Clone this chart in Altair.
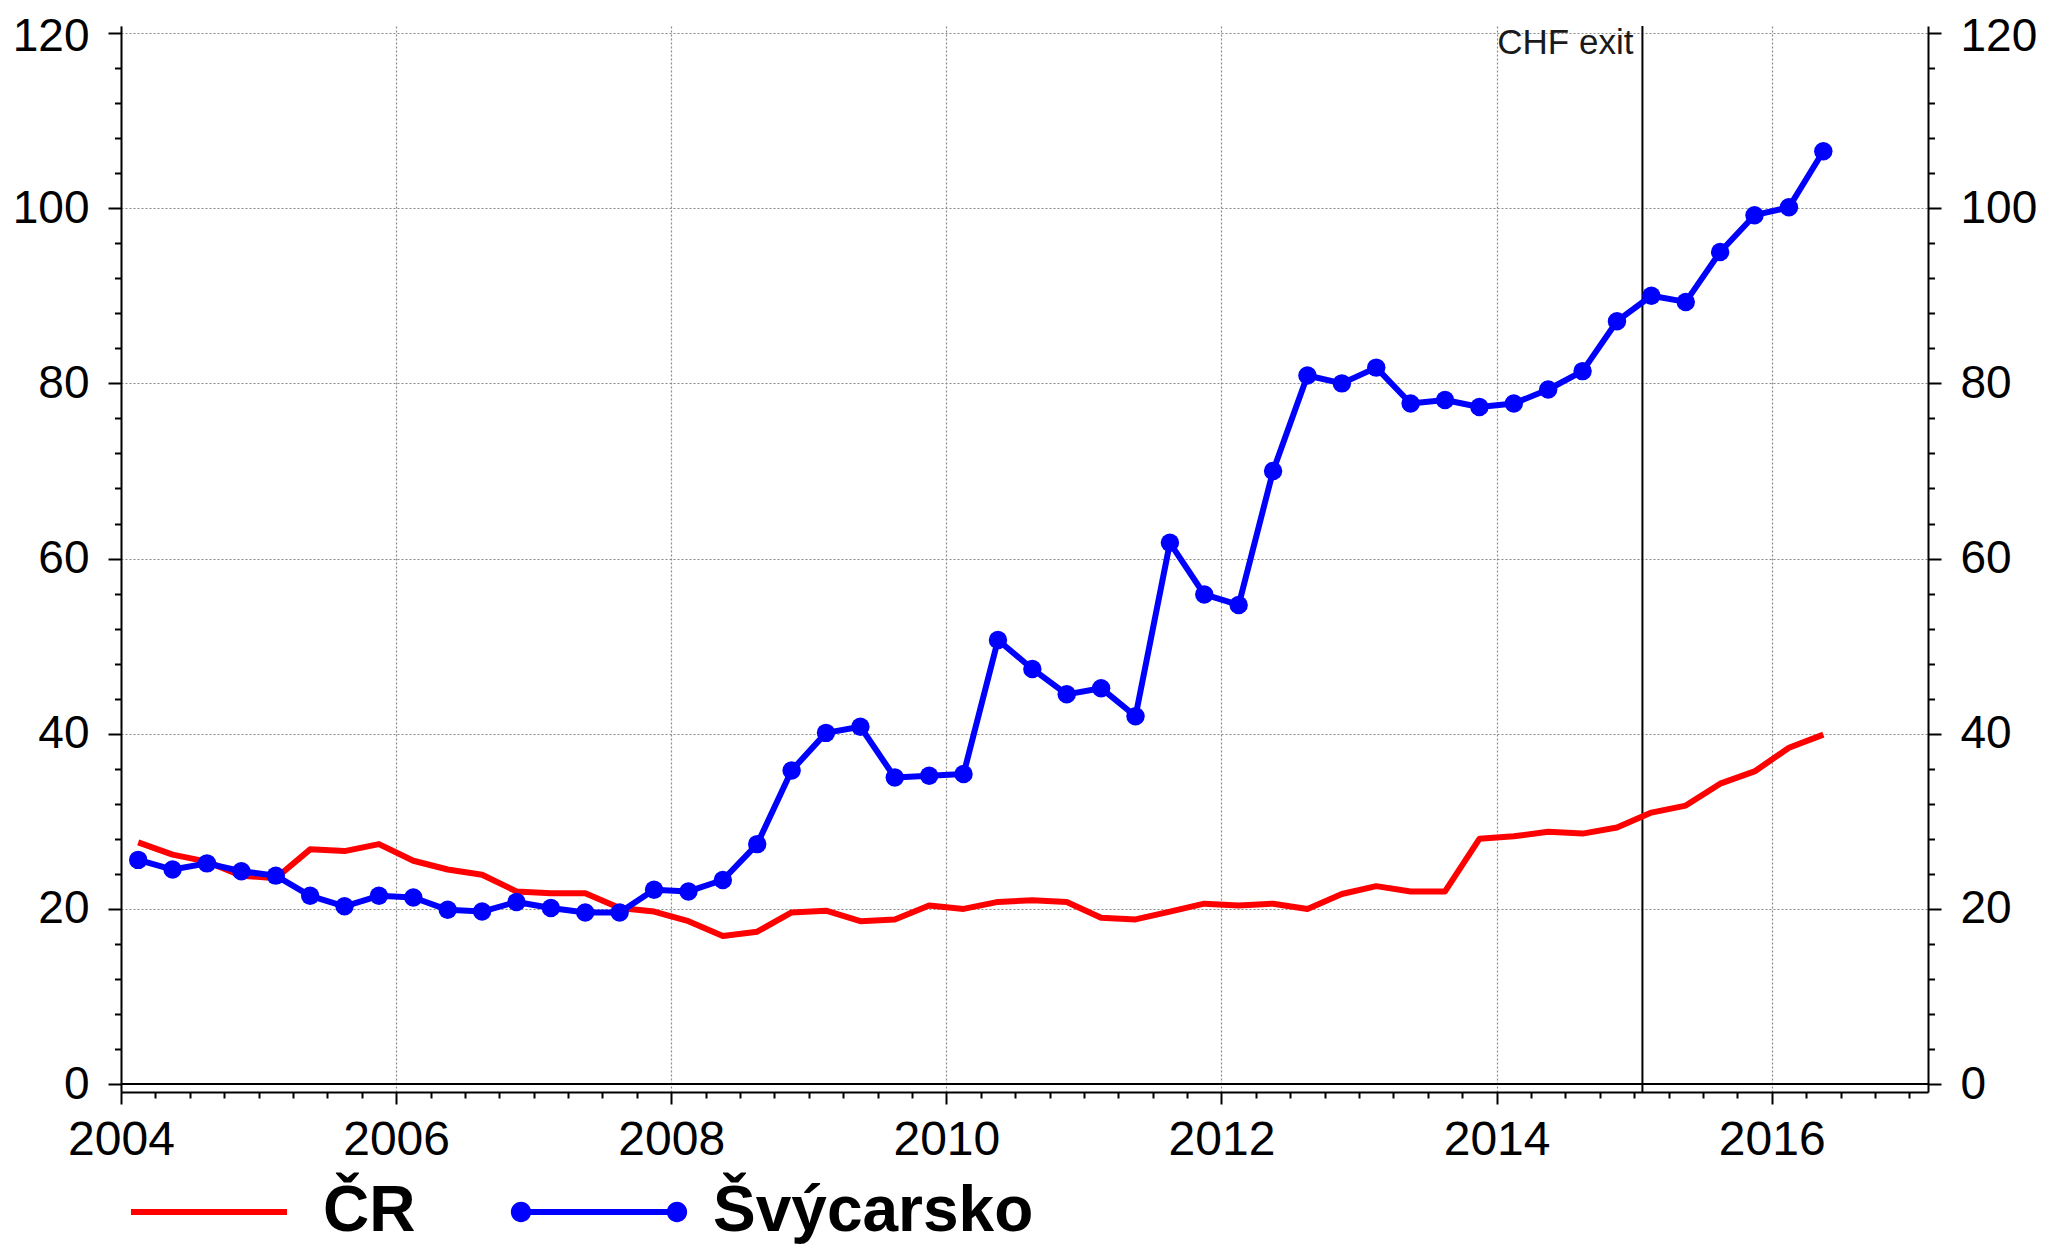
import altair as alt
import pandas as pd

# ---------------- data ----------------
quarters = [
    "2004Q1", "2004Q2", "2004Q3", "2004Q4",
    "2005Q1", "2005Q2", "2005Q3", "2005Q4",
    "2006Q1", "2006Q2", "2006Q3", "2006Q4",
    "2007Q1", "2007Q2", "2007Q3", "2007Q4",
    "2008Q1", "2008Q2", "2008Q3", "2008Q4",
    "2009Q1", "2009Q2", "2009Q3", "2009Q4",
    "2010Q1", "2010Q2", "2010Q3", "2010Q4",
    "2011Q1", "2011Q2", "2011Q3", "2011Q4",
    "2012Q1", "2012Q2", "2012Q3", "2012Q4",
    "2013Q1", "2013Q2", "2013Q3", "2013Q4",
    "2014Q1", "2014Q2", "2014Q3", "2014Q4",
    "2015Q1", "2015Q2", "2015Q3", "2015Q4",
    "2016Q1", "2016Q2",
]

cr_values = [
    27.6, 26.2, 25.4, 23.8,
    23.5, 26.8, 26.6, 27.4,
    25.5, 24.5, 23.9, 22.0,
    21.8, 21.8, 20.1, 19.7,
    18.6, 16.9, 17.4, 19.6,
    19.8, 18.6, 18.8, 20.4,
    20.0, 20.8, 21.0, 20.8,
    19.0, 18.8, 19.7, 20.6,
    20.4, 20.6, 20.0, 21.7,
    22.6, 22.0, 22.0, 28.0,
    28.3, 28.8, 28.6, 29.3,
    31.0, 31.8, 34.3, 35.7,
    38.4, 39.9,
]

ch_values = [
    25.6, 24.5, 25.2, 24.3,
    23.8, 21.5, 20.3, 21.5,
    21.3, 19.9, 19.7, 20.8,
    20.1, 19.6, 19.6, 22.2,
    22.0, 23.3, 27.4, 35.8,
    40.1, 40.8, 35.0, 35.2,
    35.4, 50.7, 47.4, 44.5,
    45.2, 42.0, 61.8, 55.9,
    54.7, 70.0, 80.9, 80.0,
    81.8, 77.7, 78.1, 77.3,
    77.7, 79.3, 81.4, 87.1,
    90.0, 89.3, 95.0, 99.2,
    100.1, 106.5,
]

series_names = ["ČR", "Švýcarsko"]
series_colors = ["#ff0000", "#0000ff"]

event_x = [2015.06]
event_labels = ["CHF exit"]

# ---------------- tables ----------------
def quarter_pos(q):
    return int(q[:4]) + (int(q[-1]) - 0.5) / 4.0

rows = []
for q, a, b in zip(quarters, cr_values, ch_values):
    rows.append({"t": quarter_pos(q), "series": series_names[0], "value": a})
    rows.append({"t": quarter_pos(q), "series": series_names[1], "value": b})
df = pd.DataFrame(rows)
ev = pd.DataFrame({"t": event_x, "label": event_labels})

FONT = "Liberation Sans"

xs = alt.Scale(domain=[2004, 2017.136], nice=False, zero=False)
ys = alt.Scale(domain=[-0.9, 120.8], nice=False, zero=False)

x_ticks = [2004 + 0.25 * i for i in range(53)]
y_ticks = list(range(0, 121, 4))

x_major = "datum.value % 2 === 0"
y_major = "datum.value % 20 === 0"

x_axis = alt.Axis(
    orient="bottom",
    values=x_ticks,
    labelExpr=f"{x_major} ? format(datum.value, 'd') : ''",
    tickSize={"condition": {"test": x_major, "value": 12}, "value": 6},
    tickColor="black", tickWidth=2,
    grid=True,
    gridOpacity={"condition": {"test": x_major, "value": 1}, "value": 0},
    gridColor="#8a8a8a", gridDash=[2, 2], gridWidth=1.2,
    domainColor="black", domainWidth=2,
    labelFont=FONT, labelFontSize=48, labelColor="black",
    labelPadding=12, labelFlush=False, labelOverlap=False,
    title=None,
)


def y_axis(orient, grid):
    return alt.Axis(
        orient=orient,
        values=y_ticks,
        labelExpr=f"{y_major} ? format(datum.value, 'd') : ''",
        labelOffset={"condition": {"test": "datum.value === 120", "value": 3}, "value": 0},
        tickSize={"condition": {"test": y_major, "value": 13}, "value": 6.5},
        tickColor="black", tickWidth=2,
        grid=grid,
        gridOpacity={"condition": {"test": y_major, "value": 1}, "value": 0},
        gridColor="#8a8a8a", gridDash=[2, 2], gridWidth=1.2,
        domainColor="black", domainWidth=2,
        labelFont=FONT, labelFontSize=46, labelColor="black",
        labelPadding=19, labelOverlap=False, labelFlush=False,
        title=None,
    )


base = alt.Chart(df)

zero_rule = alt.Chart(ev).mark_rule(color="black", strokeWidth=2).encode(
    y=alt.YDatum(0, scale=ys, axis=None)
)

event_rule = alt.Chart(ev).mark_rule(color="black", strokeWidth=2).encode(
    x=alt.X("t:Q", scale=xs, axis=None)
)

event_text = alt.Chart(ev).mark_text(
    align="right", baseline="top", dx=-9, fontSize=35, font=FONT, color="#1a1a1a"
).encode(
    x=alt.X("t:Q", scale=xs, axis=None),
    y=alt.value(0),
    text="label:N",
)

red_line = base.transform_filter(alt.datum.series == series_names[0]).mark_line(
    color=series_colors[0], strokeWidth=6, strokeJoin="round"
).encode(
    x=alt.X("t:Q", scale=xs, axis=x_axis),
    y=alt.Y("value:Q", scale=ys, axis=y_axis("left", True)),
)

blue_line = base.transform_filter(alt.datum.series == series_names[1]).mark_line(
    color=series_colors[1], strokeWidth=6, strokeJoin="round"
).encode(
    x=alt.X("t:Q", scale=xs, axis=None),
    y=alt.Y("value:Q", scale=ys, axis=y_axis("right", False)),
)

blue_points = base.transform_filter(alt.datum.series == series_names[1]).mark_circle(
    color=series_colors[1], size=340, opacity=1
).encode(
    x=alt.X("t:Q", scale=xs, axis=None),
    y=alt.Y("value:Q", scale=ys, axis=None),
)

# legend symbols (unit coordinates, scaled by sqrt(symbolSize)/2)
h = 0.0385
r = 0.13
path_line = f"M-1,{-h}L1,{-h}L1,{h}L-1,{h}Z"
path_dots = (
    path_line
    + f"M{-1 - r},0A{r},{r},0,1,1,{-1 + r},0A{r},{r},0,1,1,{-1 - r},0Z"
    + f"M{1 - r},0A{r},{r},0,1,1,{1 + r},0A{r},{r},0,1,1,{1 - r},0Z"
)

legend = alt.Legend(
    orient="none", legendX=10, legendY=1108, direction="horizontal",
    title=None, symbolSize=24336, symbolStrokeWidth=0, symbolOpacity=1,
    labelFont=FONT, labelFontSize=64, labelFontWeight="bold", labelColor="black",
    labelOffset=36, columnPadding=94, padding=0, labelLimit=1000,
)

legend_layer = base.transform_filter("false").mark_point(filled=True, opacity=1).encode(
    color=alt.Color("series:N", scale=alt.Scale(domain=series_names, range=series_colors), legend=legend),
    shape=alt.Shape("series:N", scale=alt.Scale(domain=series_names, range=[path_line, path_dots]), legend=legend),
)

chart = alt.layer(
    zero_rule, event_rule, red_line, blue_line, blue_points, event_text, legend_layer
).resolve_axis(x="independent", y="independent").properties(
    width=1807,
    height=1066,
    autosize="none",
    padding={"left": 113, "top": 18, "right": 110, "bottom": 157},
    background="white",
).configure_view(stroke=None)

chart.save("out.html", embed_options={"renderer": "svg", "actions": False})
